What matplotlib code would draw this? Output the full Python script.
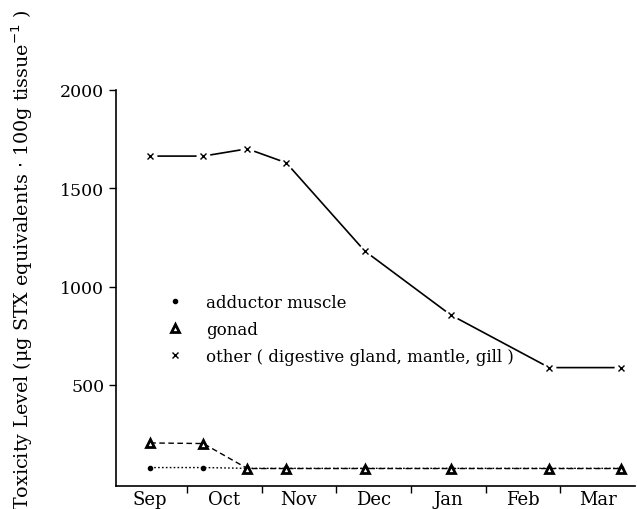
import numpy as np
import matplotlib
matplotlib.use('Agg')
import matplotlib.pyplot as plt

# sampling dates as months since 1 Sep
dates = [0.51, 1.22, 1.81, 2.33, 3.38, 4.53, 5.85, 6.81]
months = ['Sep', 'Oct', 'Nov', 'Dec', 'Jan', 'Feb', 'Mar']

adductor = [80, 80, 76, 76, 76, 76, 76, 76]
gonad = [205, 202, 75, 75, 75, 75, 75, 75]
other = [1663, 1663, 1700, 1629, 1181, 856, 588, 588]

plt.rcParams['font.family'] = 'DejaVu Serif'

fig = plt.figure(figsize=(6.37, 5.10), dpi=100)
ax = fig.add_axes([0.182, 0.045, 0.815, 0.777])

ax.plot(dates, adductor, color='black', linestyle=(0, (1.2, 1.6)), lw=1.0,
        marker='o', markersize=3, label='adductor muscle')
ax.plot(dates, gonad, color='black', linestyle=(0, (4, 2.5)), lw=1.0,
        marker='^', markersize=6, markerfacecolor='white', markeredgewidth=2.0,
        label='gonad', zorder=3)
ax.plot(dates, other, color='black', lw=1.2, zorder=2)
# white halo so the line stops short of each marker
ax.plot(dates, other, linestyle='none', marker='o', markersize=10,
        markerfacecolor='white', markeredgecolor='none', zorder=3)
ax.plot(dates, other, color='black', linestyle='none', marker='x', markersize=5,
        markeredgewidth=1.0, zorder=4, label='other ( digestive gland, mantle, gill )')

ax.set_xlim(0.05, 7.0)
ax.set_ylim(-14, 2000)
ax.set_yticks([500, 1000, 1500, 2000])
ax.set_yticklabels(['500', '1000', '1500', '2000'], fontsize=12.5)

ax.set_xticks(np.arange(1, 7))
ax.set_xticklabels([])
ax.set_xticks(np.arange(7) + 0.5, minor=True)
ax.set_xticklabels(months, minor=True, fontsize=13)
ax.tick_params(axis='x', which='major', direction='out', length=5, width=1)
ax.tick_params(axis='x', which='minor', length=0, pad=3)
ax.tick_params(axis='y', direction='out', length=5, width=1)

ax.spines['top'].set_visible(False)
ax.spines['right'].set_visible(False)
ax.spines['left'].set_linewidth(1.2)
ax.spines['bottom'].set_linewidth(1.2)

fig.text(0.035, 0.49,
         r'Toxicity Level ($\mathregular{\mu}$g STX equivalents $\cdot$ 100g tissue$^{-1}$ )',
         rotation=90, ha='center', va='center', fontsize=13.8)

ax.legend(loc='upper left', bbox_to_anchor=(0.113, 0.485), frameon=False,
          handlelength=0, handletextpad=1.9, labelspacing=0.6,
          borderaxespad=0, borderpad=0, fontsize=12)

fig.savefig('out.png', dpi=100)
